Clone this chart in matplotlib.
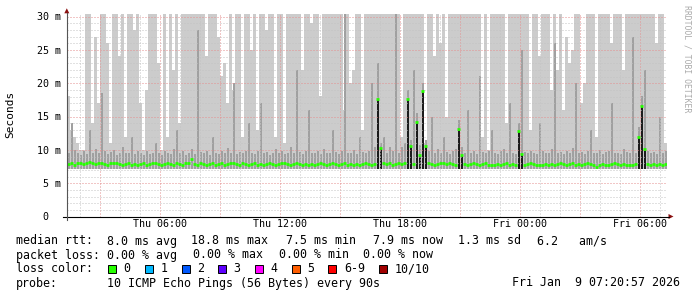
import numpy as np
import matplotlib
matplotlib.use("Agg")
import matplotlib.pyplot as plt
from matplotlib.patches import Rectangle, Polygon
from matplotlib.lines import Line2D
from matplotlib.ticker import MultipleLocator, FuncFormatter

W, H = 697, 297
MONO = "DejaVu Sans Mono"

# one smoke column = 9 minutes, hours counted from Thu 00:00
T0, STEP = 1.37, 0.15
DAYS = ["Thu", "Fri"]
SMOKE_FLOOR = 7.2

# top of the light smoke per column (ms, 30 = clipped at graph top)
smoke_top = [
    18, 13, 12, 11, 10, 10, 30, 30, 14, 27,
    17, 30, 30, 26, 11, 30, 30, 24, 30, 12,
    30, 30, 28, 30, 17, 10, 19, 30, 30, 30,
    23, 10, 30, 12, 30, 22, 30, 14, 30, 30,
    30, 30, 30, 30, 30, 30, 24, 30, 30, 30,
    27, 21, 23, 17, 30, 19, 30, 30, 12, 30,
    30, 25, 30, 13, 30, 30, 28, 30, 30, 12,
    30, 30, 11, 30, 30, 30, 30, 30, 22, 30,
    30, 29, 30, 30, 18, 30, 30, 30, 30, 30,
    30, 30, 16, 30, 20, 22, 30, 30, 13, 30,
    30, 30, 30, 30, 30, 30, 30, 30, 30, 30,
    30, 12, 30, 30, 30, 30, 30, 30, 30, 11,
    30, 30, 24, 30, 26, 30, 15, 30, 30, 30,
    30, 30, 30, 30, 30, 30, 30, 30, 12, 30,
    10, 30, 30, 30, 30, 30, 14, 30, 30, 30,
    30, 30, 30, 30, 13, 30, 30, 24, 30, 30,
    30, 19, 30, 22, 30, 16, 27, 23, 25, 30,
    30, 17, 20, 30, 30, 30, 12, 30, 30, 30,
    30, 26, 30, 30, 30, 22, 30, 30, 30, 30,
    30, 30, 30, 30, 30, 30, 26, 30, 30, 11,
]

# top of the denser (darker) smoke per column, ms
smoke_mid = [
    9.5, 14, 10, 9.5, 9.2, 9.8, 9.4, 13, 9.6, 10.2,
    9.5, 18.5, 9.8, 9.4, 9.7, 10, 9.3, 9.6, 10.4, 9.5,
    9.6, 12, 9.4, 9.8, 9.5, 9.2, 9.9, 9.4, 9.6, 11,
    9.5, 9.3, 9.8, 9.6, 9.4, 10.1, 13, 9.5, 9.8, 9.3,
    9.6, 10.2, 9.4, 28, 9.7, 9.5, 9.9, 9.3, 12, 9.6,
    9.4, 9.8, 9.5, 10.3, 9.6, 20, 9.4, 9.7, 9.5, 9.9,
    14, 9.6, 9.4, 9.8, 17, 9.5, 9.7, 9.3, 9.6, 10.1,
    9.5, 9.8, 9.4, 9.6, 10.4, 9.5, 22, 9.7, 9.4, 9.9,
    16, 9.6, 9.5, 9.8, 9.4, 10.2, 9.6, 9.5, 13, 9.7,
    9.4, 9.8, 30, 9.6, 9.5, 10, 9.4, 12, 9.7, 9.5,
    9.8, 20, 10.5, 23, 11, 12, 9.6, 10.4, 9.8, 30,
    9.6, 10.5, 11, 19, 11.5, 22, 15.5, 10.8, 20, 11.5,
    9.8, 15, 9.6, 10.2, 9.5, 12, 9.7, 9.4, 9.8, 10.1,
    14.5, 10.5, 9.6, 16, 9.5, 9.8, 9.4, 21, 9.7, 9.5,
    9.9, 13, 9.6, 9.4, 9.8, 10.2, 9.5, 17, 9.6, 9.4,
    14, 25, 9.7, 9.5, 9.9, 9.6, 9.4, 14, 9.8, 9.5,
    9.6, 10.1, 26, 9.5, 9.7, 9.4, 9.8, 9.6, 10.3, 20,
    9.5, 9.7, 9.4, 9.8, 13, 9.6, 9.5, 10, 9.4, 9.7,
    9.8, 17, 9.5, 9.6, 9.4, 10.2, 9.7, 9.5, 27, 9.6,
    13.5, 18, 22, 9.8, 9.5, 9.7, 9.4, 15, 9.6, 9.8,
]

# median rtt per column, ms
median_rtt = [
    7.9, 8.0, 7.8, 8.1, 8.0, 7.9, 8.1, 8.2, 8.0, 7.9,
    8.0, 8.1, 7.9, 7.8, 8.0, 8.1, 8.0, 7.9, 7.8, 7.9,
    8.0, 7.8, 7.9, 7.8, 7.9, 8.0, 7.8, 7.9, 8.0, 8.1,
    7.9, 7.8, 7.9, 8.0, 7.9, 7.8, 8.0, 7.9, 7.8, 8.0,
    8.1, 8.6, 7.9, 7.8, 8.0, 7.9, 7.8, 7.9, 8.0, 7.8,
    7.9, 8.0, 7.8, 7.9, 8.1, 8.0, 7.9, 7.8, 8.0, 7.9,
    7.8, 7.9, 8.0, 7.8, 7.9, 7.8, 7.9, 8.0, 7.9, 7.8,
    7.9, 8.0, 8.1, 7.9, 7.8, 7.9, 8.0, 7.9, 7.8, 7.9,
    7.8, 7.9, 7.8, 7.9, 8.0, 7.9, 7.8, 7.9, 8.0, 7.9,
    7.8, 7.9, 8.0, 7.8, 7.9, 7.8, 7.9, 7.8, 7.9, 8.0,
    7.9, 7.8, 7.9, 17.6, 10.3, 8.1, 7.9, 8.0, 7.8, 7.9,
    8.0, 7.9, 8.1, 17.7, 10.6, 7.9, 14.2, 9.3, 18.8, 10.6,
    8.0, 7.9, 7.8, 7.9, 8.0, 8.1, 7.9, 8.0, 7.9, 7.8,
    13.1, 9.2, 7.9, 7.8, 7.9, 8.0, 7.9, 7.8, 7.9, 8.0,
    7.8, 7.7, 7.8, 7.9, 7.8, 7.9, 8.0, 7.8, 7.9, 7.8,
    12.8, 9.4, 7.8, 7.9, 8.0, 7.9, 7.8, 7.7, 7.8, 7.9,
    7.8, 7.9, 7.8, 7.9, 8.0, 7.9, 7.8, 7.9, 8.0, 7.8,
    7.9, 7.8, 7.9, 8.0, 7.9, 7.8, 7.5, 7.8, 7.9, 7.8,
    7.8, 7.9, 8.0, 7.9, 7.8, 7.9, 7.8, 7.7, 7.8, 7.9,
    12.0, 16.6, 10.2, 7.9, 7.8, 7.9, 7.8, 7.9, 7.8, 7.9,
]

median_stats = ["8.0 ms avg", "18.8 ms max", "7.5 ms min", "7.9 ms now", "1.3 ms sd", "6.2   am/s"]
loss_stats = ["0.00 % avg", "0.00 % max", "0.00 % min", "0.00 % now"]
loss_labels = ["0", "1", "2", "3", "4", "5", "6-9", "10/10"]
loss_colors = ["#26ff00", "#00b8ff", "#0059ff", "#5e00ff", "#ff00ff", "#ff5e00", "#ff0000", "#a10000"]
probe_text = "10 ICMP Echo Pings (56 Bytes) every 90s"
stamp = "Fri Jan  9 07:20:57 2026"


def fx(x):
    return x / W


def fy(y):
    return 1 - y / H


YMAX = 30.4
fig = plt.figure(figsize=(W / 100, H / 100), dpi=100)
fig.patch.set_facecolor("white")
ax = fig.add_axes([fx(67), fy(216.5), 600 / W, YMAX * 200 / 30 / H])

x = T0 + STEP * np.arange(len(smoke_top))
top = np.array(smoke_top, float)
top = np.where(top >= 30, YMAX, top)
mid = np.array(smoke_mid, float)
mid = np.where(mid >= 30, YMAX, mid)
med = np.array(median_rtt, float)

ax.bar(x, top - SMOKE_FLOOR, STEP, bottom=SMOKE_FLOOR, align="edge",
       color="#cccccc", lw=0, antialiased=False, zorder=1)
ax.bar(x + STEP / 3, mid - SMOKE_FLOOR, STEP * 2 / 3, bottom=SMOKE_FLOOR, align="edge",
       color="#a0a0a0", lw=0, antialiased=False, zorder=1.1)
spike = med > 8.8
ax.bar(x[spike] + STEP / 3, med[spike] - SMOKE_FLOOR, STEP * 2 / 3, bottom=SMOKE_FLOOR,
       align="edge", color="#1c1c1c", lw=0, antialiased=False, zorder=1.2)
ax.hlines(med, x, x + STEP, colors="#26ff00", lw=2.0, zorder=3)

ax.set_xlim(T0, T0 + STEP * len(smoke_top))
ax.set_ylim(0, YMAX)
ax.xaxis.set_major_locator(MultipleLocator(3))
ax.xaxis.set_minor_locator(MultipleLocator(1))
ax.yaxis.set_major_locator(MultipleLocator(5))
ax.yaxis.set_minor_locator(MultipleLocator(1))
ax.xaxis.set_major_formatter(FuncFormatter(
    lambda v, p: f"{DAYS[int(v // 24)]} {int(v % 24):02d}:00" if round(v) % 6 == 0 else ""))
ax.yaxis.set_major_formatter(FuncFormatter(lambda v, p: f"{int(v):2d} m" if v else " 0"))
ax.grid(which="major", color="#e58f8f", lw=0.72, ls=(0, (1, 2)))
ax.grid(which="minor", color="#c4c4c4", lw=0.72, ls=(0, (1, 2)))
ax.set_axisbelow(False)
for s in ax.spines.values():
    s.set_visible(False)
ax.tick_params(which="both", length=0, labelsize=7.2, labelfontfamily=MONO)
ax.tick_params(axis="x", pad=1.5)
ax.tick_params(axis="y", pad=21.6)
plt.setp(ax.get_yticklabels(), ha="left")

# axes lines and arrows
fig.add_artist(Line2D([fx(63), fx(669)], [fy(216.5)] * 2, color="black", lw=0.8))
fig.add_artist(Line2D([fx(67)] * 2, [fy(219.5), fy(13)], color="#555555", lw=0.8))
fig.add_artist(Polygon([(fx(64.3), fy(13.3)), (fx(69.3), fy(13.3)), (fx(66.8), fy(8.3))],
                       closed=True, transform=fig.transFigure, color="#8b1010", lw=0))
fig.add_artist(Polygon([(fx(668.5), fy(214)), (fx(668.5), fy(219)), (fx(673.5), fy(216.5))],
                       closed=True, transform=fig.transFigure, color="#8b1010", lw=0))

fig.text(fx(10), fy(114), "Seconds", rotation=90, ha="center", va="center",
         family=MONO, size=8)
fig.text(fx(687), fy(5), "RRDTOOL / TOBI OETIKER", rotation=-90, ha="center", va="top",
         family=MONO, size=5.9, color="#aaaaaa")


def put(xp, yp, s, **kw):
    fig.text(fx(xp), fy(yp), s, ha=kw.pop("ha", "left"), va="center", family=MONO, size=8.4, **kw)


put(16, 241, "median rtt:")
for s, xp in zip(median_stats, [107, 191, 286, 373, 458, 537]):
    put(xp, 241, s)
put(16, 255, "packet loss:")
for s, xp in zip(loss_stats, [107, 193, 279, 363]):
    put(xp, 255, s)
put(16, 269, "loss color:")
bx = 108.3
for lab, c in zip(loss_labels, loss_colors):
    fig.add_artist(Rectangle((fx(bx), fy(273)), 8 / W, 8 / H, transform=fig.transFigure,
                             facecolor=c, edgecolor="black", lw=0.7))
    put(bx + 15.3, 269, lab)
    bx += 15.3 + 7 * len(lab) + 14.4
put(16, 283, "probe:")
put(107, 283, probe_text)
put(680, 283, stamp, ha="right")

fig.savefig("out.png", dpi=100, facecolor="white")
